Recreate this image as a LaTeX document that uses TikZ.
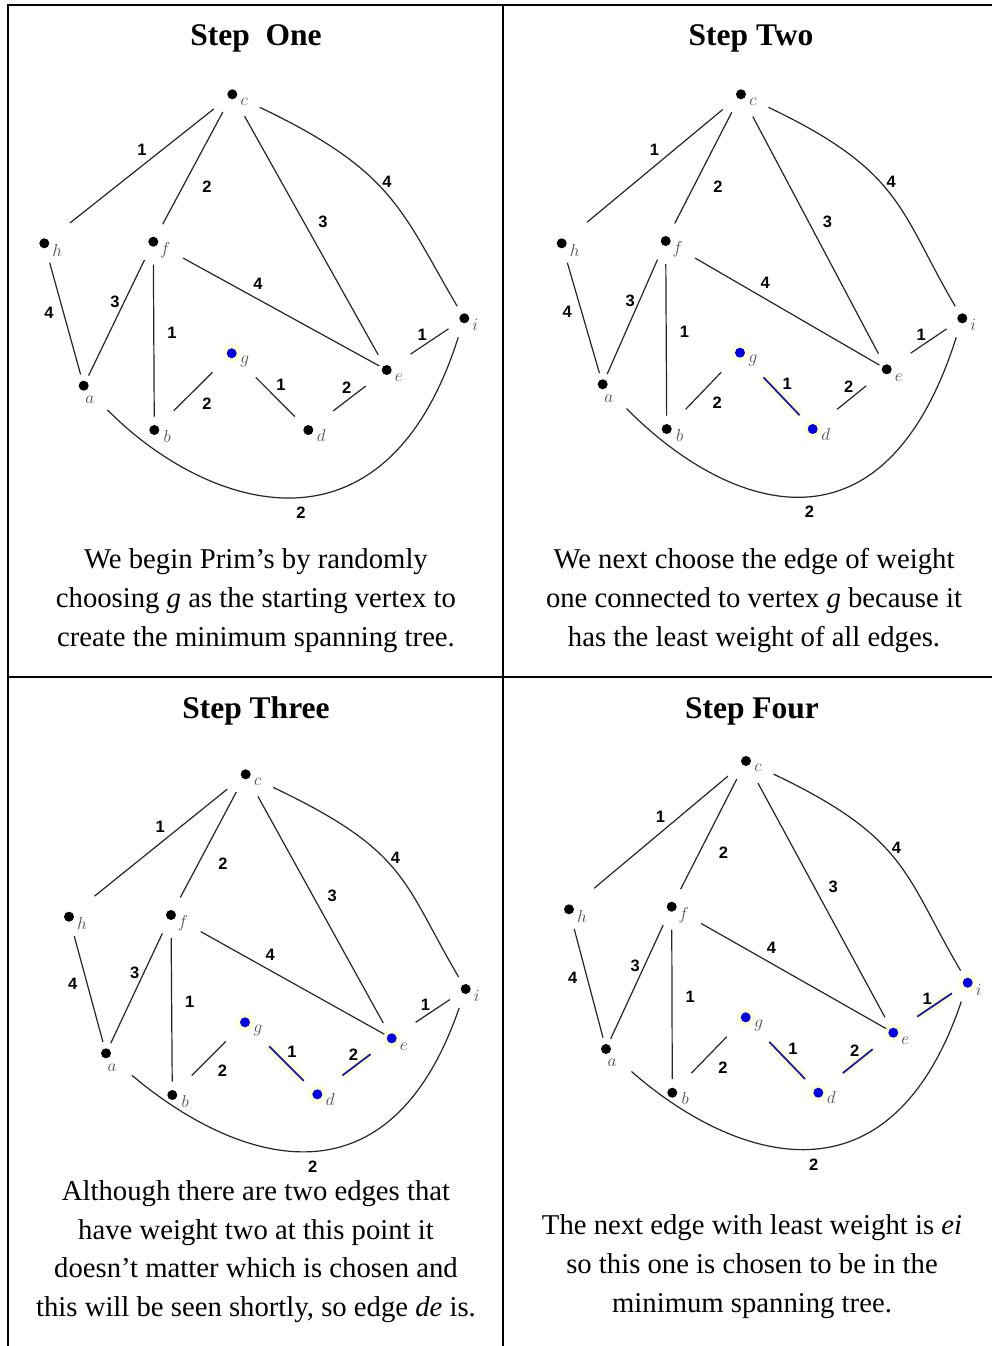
\documentclass[tikz,border=0pt]{standalone}
\usepackage{fontspec}
\setmainfont{Liberation Serif}
\newfontfamily\wtfont{Liberation Sans}
\usetikzlibrary{calc}
\definecolor{vblue}{RGB}{0,0,225}
\definecolor{eblue}{RGB}{25,25,175}
\definecolor{halo}{RGB}{255,255,215}
\definecolor{vgray}{RGB}{80,80,80}
\tikzset{
  gedge/.style={line width=1.2pt, draw=black!85},
  seledge/.style={line width=1.8pt, draw=eblue, preaction={draw=halo, line width=8pt}},
  vtx/.style={circle, fill=black, minimum size=10pt, inner sep=0pt},
  vsel/.style={fill=vblue, preaction={draw=halo, line width=8pt}},
  vlab/.style={font=\fontsize{18}{20}\selectfont, text=vgray, inner sep=0pt},
  wt/.style={font=\wtfont\bfseries\fontsize{16.5}{18}\selectfont, inner sep=0pt},
  ttl/.style={font=\bfseries\fontsize{31.5}{36}\selectfont, anchor=base, inner sep=0pt},
  captxt/.style={font=\fontsize{28.7}{38.7}\selectfont, anchor=base, inner sep=0pt},
  tblline/.style={line width=2pt, draw=black},
  A-vg/.style={vsel}, A-vd/.style={}, A-ve/.style={}, A-vi/.style={},
  A-gd/.style={}, A-de/.style={}, A-ei/.style={},
  B-vg/.style={vsel}, B-vd/.style={vsel}, B-ve/.style={}, B-vi/.style={},
  B-gd/.style={seledge}, B-de/.style={}, B-ei/.style={},
  C-vg/.style={vsel}, C-vd/.style={vsel}, C-ve/.style={vsel}, C-vi/.style={},
  C-gd/.style={seledge}, C-de/.style={seledge}, C-ei/.style={},
  D-vg/.style={vsel}, D-vd/.style={vsel}, D-ve/.style={vsel}, D-vi/.style={vsel},
  D-gd/.style={seledge}, D-de/.style={seledge}, D-ei/.style={seledge},
}
\newcommand\primgraph[2]{%
  \draw[gedge, shorten <=23.6pt, shorten >=32.8pt] (#1c.center) -- (#1h.center)
    node[wt, pos=.439, shift={(-7.8,9.7)}] (#1w-ch) {1};
  \draw[gedge, shorten <=20.1pt, shorten >=19.8pt] (#1c.center) -- (#1f.center)
    node[wt, pos=.56, shift={(19,-10.2)}] (#1w-cf) {2};
  \draw[gedge, shorten <=25.2pt, shorten >=17.5pt] (#1c.center) -- (#1e.center)
    node[wt, pos=.493, shift={(14.6,8.2)}] (#1w-ce) {3};
  \draw[gedge, shorten <=30.4pt, shorten >=14pt] (#1c.center)
    .. controls ($(#1c.center)+(162,-77)$) and ($(#1i.center)+(-63,107)$) .. (#1i.center)
    node[wt, pos=.45, shift={(11,3)}] (#1w-ci) {4};
  \draw[gedge, shorten <=20.2pt, shorten >=11.6pt] (#1h.center) -- (#1a.center)
    node[wt, pos=.463, shift={(-13.5,-3.7)}] (#1w-ha) {4};
  \draw[gedge, shorten <=20.3pt, shorten >=11.2pt] (#1f.center) -- (#1a.center)
    node[wt, pos=.444, shift={(-7.4,3.6)}] (#1w-fa) {3};
  \draw[gedge, shorten <=23pt, shorten >=13.5pt] (#1f.center) -- (#1b.center)
    node[wt, pos=.485, shift={(18.2,0)}] (#1w-fb) {1};
  \draw[gedge, shorten <=34pt, shorten >=8.4pt] (#1f.center) -- (#1e.center)
    node[wt, pos=.421, shift={(6.4,11.7)}] (#1w-fe) {4};
  \draw[gedge, #1-ei, shorten <=28.8pt, shorten >=19pt] (#1e.center) -- (#1i.center)
    node[wt, pos=.526, shift={(-5.2,7.8)}] (#1w-ei) {1};
  \draw[gedge, shorten <=27.1pt, shorten >=27.4pt] (#1g.center) -- (#1b.center)
    node[wt, pos=.489, shift={(13.1,-13.2)}] (#1w-gb) {2};
  \draw[gedge, #1-gd, shorten <=34pt, shorten >=19pt] (#1g.center) -- (#1d.center)
    node[wt, pos=.528, shift={(8.9,8.8)}] (#1w-gd) {1};
  \draw[gedge, #1-de, shorten <=31.4pt, shorten >=26.4pt] (#1d.center) -- (#1e.center)
    node[wt, pos=.569, shift={(-6.2,8.2)}] (#1w-de) {2};
  \draw[gedge, shorten <=34pt, shorten >=20pt] (#1a.center)
    .. controls ($(#1a.center)+(118,{-120+#2})$) and ($(#1i.center)+(-81,{-255+#2})$) .. (#1i.center)
    node[wt, pos=.5, shift={(13,-20)}] (#1w-ai) {2};
  \node[vlab] (#1l-c) at ($(#1c.center)+(12,-7)$) {$c$};
  \node[vlab] (#1l-h) at ($(#1h.center)+(13,-7)$) {$h$};
  \node[vlab] (#1l-f) at ($(#1f.center)+(12,-8)$) {$f$};
  \node[vlab] (#1l-i) at ($(#1i.center)+(11,-7)$) {$i$};
  \node[vlab] (#1l-g) at ($(#1g.center)+(13,-8)$) {$g$};
  \node[vlab] (#1l-e) at ($(#1e.center)+(12,-8)$) {$e$};
  \node[vlab] (#1l-a) at ($(#1a.center)+(6,-14)$) {$a$};
  \node[vlab] (#1l-b) at ($(#1b.center)+(13,-6)$) {$b$};
  \node[vlab] (#1l-d) at ($(#1d.center)+(13,-5)$) {$d$};
}
\begin{document}
\begin{tikzpicture}[x=1pt, y=1pt]
\useasboundingbox (0,0) rectangle (992,-1346);
\fill[white] (0,0) rectangle (992,-1346);
% table rules
\draw[tblline] (8,-1346) -- (8,-5) -- (992,-5);
\draw[tblline] (503,-5) -- (503,-1346);
\draw[tblline] (8,-677) -- (992,-677);
% ---------- panel A ----------
\node[vtx] (Ac) at (232.3,-94.3) {};
\node[vtx] (Ah) at (44.3,-243.3) {};
\node[vtx] (Af) at (153.3,-241.7) {};
\node[vtx,A-vi] (Ai) at (464.3,-318.3) {};
\node[vtx,A-vg] (Ag) at (231.7,-353.3) {};
\node[vtx,A-ve] (Ae) at (386.7,-370) {};
\node[vtx] (Aa) at (83.7,-385.7) {};
\node[vtx] (Ab) at (154.3,-430) {};
\node[vtx,A-vd] (Ad) at (308.3,-430) {};
\primgraph{A}{0}
% ---------- panel B ----------
\node[vtx] (Bc) at (741,-94.3) {};
\node[vtx] (Bh) at (561.7,-243.3) {};
\node[vtx] (Bf) at (665.7,-241) {};
\node[vtx,B-vi] (Bi) at (962.3,-318.3) {};
\node[vtx,B-vg] (Bg) at (740,-352.7) {};
\node[vtx,B-ve] (Be) at (886.7,-369.3) {};
\node[vtx] (Ba) at (602.7,-384.3) {};
\node[vtx] (Bb) at (666.7,-429) {};
\node[vtx,B-vd] (Bd) at (812.7,-429) {};
\primgraph{B}{0}
% ---------- panel C ----------
\node[vtx] (Cc) at (245.7,-774.3) {};
\node[vtx] (Ch) at (69,-916.7) {};
\node[vtx] (Cf) at (171,-915) {};
\node[vtx,C-vi] (Ci) at (465.7,-989) {};
\node[vtx,C-vg] (Cg) at (245,-1022.3) {};
\node[vtx,C-ve] (Ce) at (391.7,-1038.3) {};
\node[vtx] (Ca) at (106,-1053.3) {};
\node[vtx] (Cb) at (172.3,-1095) {};
\node[vtx,C-vd] (Cd) at (317.3,-1094.3) {};
\primgraph{C}{20}
% ---------- panel D ----------
\node[vtx] (Dc) at (746,-761) {};
\node[vtx] (Dh) at (569,-909.3) {};
\node[vtx] (Df) at (671.7,-906.7) {};
\node[vtx,D-vi] (Di) at (967.7,-982.7) {};
\node[vtx,D-vg] (Dg) at (745.7,-1017.3) {};
\node[vtx,D-ve] (De) at (893.3,-1032.7) {};
\node[vtx] (Da) at (606,-1049) {};
\node[vtx] (Db) at (672.3,-1092.7) {};
\node[vtx,D-vd] (Dd) at (818.3,-1092.7) {};
\primgraph{D}{16}
% ---------- titles ----------
\node[ttl] (tA) at (256,-46) {Step~~One};
\node[ttl] (tB) at (751,-46) {Step Two};
\node[ttl] (tC) at (256,-718) {Step Three};
\node[ttl] (tD) at (752,-718) {Step Four};
% ---------- captions ----------
\node[captxt] (kA1) at (256,-568) {We begin Prim’s by randomly};
\node[captxt] (kA2) at (256,-607) {choosing \textit{g} as the starting vertex to};
\node[captxt] (kA3) at (256,-646) {create the minimum spanning tree.};
\node[captxt] (kB1) at (754,-568) {We next choose the edge of weight};
\node[captxt] (kB2) at (754,-607) {one connected to vertex \textit{g} because it};
\node[captxt] (kB3) at (754,-646) {has the least weight of all edges.};
\node[captxt] (kC1) at (256,-1200) {Although there are two edges that};
\node[captxt] (kC2) at (256,-1239) {have weight two at this point it};
\node[captxt] (kC3) at (256,-1277.5) {doesn’t matter which is chosen and};
\node[captxt] (kC4) at (256,-1316) {this will be seen shortly, so edge \textit{de} is.};
\node[captxt] (kD1) at (752,-1234) {The next edge with least weight is \textit{ei}};
\node[captxt] (kD2) at (752,-1273) {so this one is chosen to be in the};
\node[captxt] (kD3) at (752,-1312) {minimum spanning tree.};
\end{tikzpicture}
\end{document}
